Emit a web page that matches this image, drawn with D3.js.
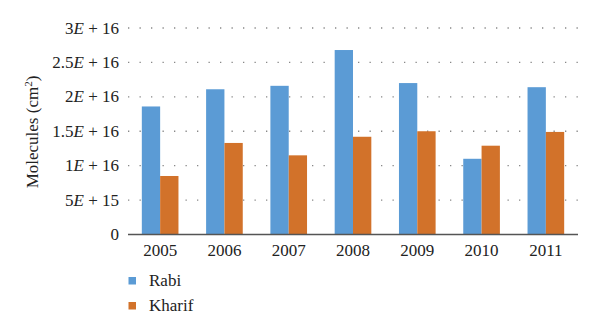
<!DOCTYPE html>
<html><head><meta charset="utf-8">
<script src="https://cdn.jsdelivr.net/npm/d3@7"></script>
<style>body{margin:0;background:#fff}svg{display:block}</style>
</head><body><svg id="c" width="600" height="331"></svg>
<script>
const years = ["2005","2006","2007","2008","2009","2010","2011"];
const rabi = [1.86e16, 2.11e16, 2.16e16, 2.68e16, 2.20e16, 1.10e16, 2.14e16];
const kharif = [0.85e16, 1.33e16, 1.15e16, 1.42e16, 1.50e16, 1.29e16, 1.49e16];
const yTicks = [0, 5e15, 1e16, 1.5e16, 2e16, 2.5e16, 3e16];
const yTickLabels = [["0",""],["5","+ 15"],["1","+ 16"],["1.5","+ 16"],["2","+ 16"],["2.5","+ 16"],["3","+ 16"]];
const seriesNames = ["Rabi","Kharif"];
const colors = ["#5B9BD5","#D2722A"];

const svg = d3.select("#c");
const L=128, R=578, T=28, B=234.5;
const x = d3.scaleBand().domain(years).range([L,R]).paddingInner(0.43).paddingOuter(0.215);
const xs = d3.scaleBand().domain(seriesNames).range([0,x.bandwidth()]);
const y = d3.scaleLinear().domain([0,3e16]).range([B,T]);
const series=[rabi,kharif];
const FS = 17, FF = "Liberation Serif";

svg.append("g").selectAll("line").data(yTicks.slice(1)).join("line")
  .attr("x1",L).attr("x2",R).attr("y1",d=>y(d)).attr("y2",d=>y(d))
  .attr("stroke","#888").attr("stroke-width",1.3).attr("stroke-dasharray","1.3 10.2");

series.forEach((vals,si)=>{
  svg.append("g").selectAll("rect").data(vals).join("rect")
    .attr("x",(d,i)=>x(years[i])+xs(seriesNames[si]))
    .attr("width",xs.bandwidth())
    .attr("y",d=>y(d)).attr("height",d=>B-y(d))
    .attr("fill",colors[si]);
});

svg.append("line").attr("x1",L).attr("x2",R).attr("y1",B).attr("y2",B).attr("stroke","#555").attr("stroke-width",1.5);

const yl = svg.append("g");
yTicks.forEach((t,i)=>{
  const txt = yl.append("text").attr("x",119).attr("y",y(t)+5.5).attr("text-anchor","end")
    .attr("font-family",FF).attr("font-size",FS).attr("fill","#222");
  const [m,e]=yTickLabels[i];
  if(e===""){txt.text(m);}
  else{
    txt.append("tspan").text(m);
    txt.append("tspan").attr("font-style","italic").text("E");
    txt.append("tspan").text(" "+e);
  }
});

svg.append("g").selectAll("text").data(years).join("text")
  .attr("x",d=>x(d)+x.bandwidth()/2).attr("y",255.5).attr("text-anchor","middle")
  .attr("font-family",FF).attr("font-size",FS).attr("fill","#222").text(d=>d);

const yt = svg.append("text").attr("transform","translate(38,132) rotate(-90)").attr("text-anchor","middle")
  .attr("font-family",FF).attr("font-size",FS).attr("fill","#222");
yt.append("tspan").text("Molecules (cm");
yt.append("tspan").attr("font-size",11).attr("dy",-6).text("2");
yt.append("tspan").attr("dy",6).text(")");

seriesNames.forEach((n,i)=>{
  const yy = 277 + i*25;
  svg.append("rect").attr("x",128.5).attr("y",yy).attr("width",7.5).attr("height",7.5).attr("fill",colors[i]);
  svg.append("text").attr("x",149).attr("y",yy+8.5).attr("font-family",FF).attr("font-size",FS).attr("fill","#222").text(n);
});
</script></body></html>
